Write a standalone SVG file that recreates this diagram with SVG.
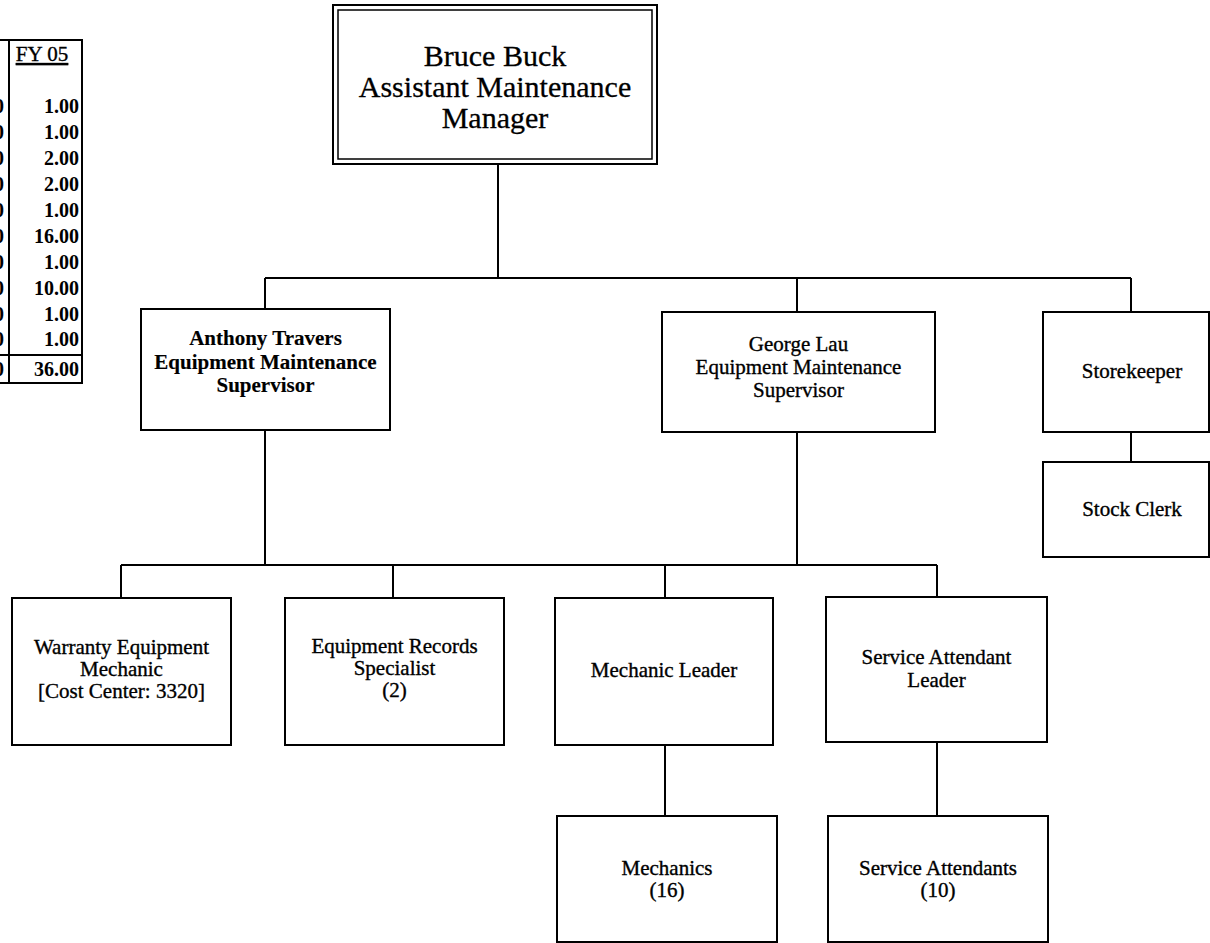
<svg xmlns="http://www.w3.org/2000/svg" width="1210" height="943" viewBox="0 0 1210 943">
<style>
.box{fill:#fff;stroke:#000;stroke-width:2}
.ln{stroke:#000;stroke-width:2;fill:none}
.t{font-family:"Liberation Serif","Times New Roman",serif;font-size:21px;text-anchor:middle;fill:#000;stroke:#000;stroke-width:0.35}
.big{font-size:30px;stroke-width:0.3}
.b{font-weight:bold;stroke-width:0.15}
.num{font-family:"Liberation Serif","Times New Roman",serif;font-size:20px;font-weight:bold;text-anchor:end;fill:#000}
</style>
<rect width="1210" height="943" fill="#fff"/>
<g id="fte-table">
<line class="ln" x1="0" y1="40" x2="83" y2="40"/>
<line class="ln" x1="9" y1="40" x2="9" y2="383"/>
<line class="ln" x1="82" y1="40" x2="82" y2="383"/>
<line class="ln" x1="0" y1="355" x2="83" y2="355"/>
<line class="ln" x1="0" y1="383" x2="83" y2="383"/>
<text class="t" x="42" y="61" font-size="16" text-decoration="underline">FY 05</text>
<text class="num" x="79" y="113">1.00</text>
<text class="num" x="79" y="139">1.00</text>
<text class="num" x="79" y="165">2.00</text>
<text class="num" x="79" y="191">2.00</text>
<text class="num" x="79" y="217">1.00</text>
<text class="num" x="79" y="243">16.00</text>
<text class="num" x="79" y="269">1.00</text>
<text class="num" x="79" y="295">10.00</text>
<text class="num" x="79" y="321">1.00</text>
<text class="num" x="79" y="346">1.00</text>
<text class="num" x="79" y="376">36.00</text>
<text class="num" x="4" y="113">0</text>
<text class="num" x="4" y="139">0</text>
<text class="num" x="4" y="165">0</text>
<text class="num" x="4" y="191">0</text>
<text class="num" x="4" y="217">0</text>
<text class="num" x="4" y="243">0</text>
<text class="num" x="4" y="269">0</text>
<text class="num" x="4" y="295">0</text>
<text class="num" x="4" y="321">0</text>
<text class="num" x="4" y="346">0</text>
<text class="num" x="4" y="376">0</text>
</g>
<g id="connectors">
<path class="ln" d="M498 164V278M265 278H1131M265 278V309M797 278V312M1131 278V312"/>
<path class="ln" d="M1131 432V462"/>
<path class="ln" d="M265 430V565M797 432V565M121 565H937M121 565V598M393 565V598M665 565V598M937 565V597"/>
<path class="ln" d="M665 745V816M937 742V816"/>
</g>
<g id="bruce-buck">
<rect class="box" x="333" y="5" width="324" height="159"/>
<rect x="338" y="10" width="314" height="149" fill="none" stroke="#000" stroke-width="1.5"/>
<text class="t big" x="495" y="66">Bruce Buck</text>
<text class="t big" x="495" y="97">Assistant Maintenance</text>
<text class="t big" x="495" y="128">Manager</text>
</g>
<g id="anthony-travers">
<rect class="box" x="141" y="309" width="249" height="121"/>
<text class="t b" x="265.5" y="345">Anthony Travers</text>
<text class="t b" x="265.5" y="369">Equipment Maintenance</text>
<text class="t b" x="265.5" y="392">Supervisor</text>
</g>
<g id="george-lau">
<rect class="box" x="662" y="312" width="273" height="120"/>
<text class="t" x="798.5" y="351">George Lau</text>
<text class="t" x="798.5" y="374">Equipment Maintenance</text>
<text class="t" x="798.5" y="397">Supervisor</text>
</g>
<g id="storekeeper">
<rect class="box" x="1043" y="312" width="166" height="120"/>
<text class="t" x="1132" y="378">Storekeeper</text>
</g>
<g id="stock-clerk">
<rect class="box" x="1043" y="462" width="166" height="95"/>
<text class="t" x="1132" y="516">Stock Clerk</text>
</g>
<g id="warranty-equipment-mechanic">
<rect class="box" x="12" y="598" width="219" height="147"/>
<text class="t" x="121.5" y="654">Warranty Equipment</text>
<text class="t" x="121.5" y="676">Mechanic</text>
<text class="t" x="121.5" y="698">[Cost Center: 3320]</text>
</g>
<g id="equipment-records-specialist">
<rect class="box" x="285" y="598" width="219" height="147"/>
<text class="t" x="394.5" y="653">Equipment Records</text>
<text class="t" x="394.5" y="675">Specialist</text>
<text class="t" x="394.5" y="697">(2)</text>
</g>
<g id="mechanic-leader">
<rect class="box" x="555" y="598" width="218" height="147"/>
<text class="t" x="664" y="677">Mechanic Leader</text>
</g>
<g id="service-attendant-leader">
<rect class="box" x="826" y="597" width="221" height="145"/>
<text class="t" x="936.5" y="664">Service Attendant</text>
<text class="t" x="936.5" y="687">Leader</text>
</g>
<g id="mechanics">
<rect class="box" x="557" y="816" width="220" height="126"/>
<text class="t" x="667" y="875">Mechanics</text>
<text class="t" x="667" y="897">(16)</text>
</g>
<g id="service-attendants">
<rect class="box" x="828" y="816" width="220" height="126"/>
<text class="t" x="938" y="875">Service Attendants</text>
<text class="t" x="938" y="897">(10)</text>
</g>
</svg>
